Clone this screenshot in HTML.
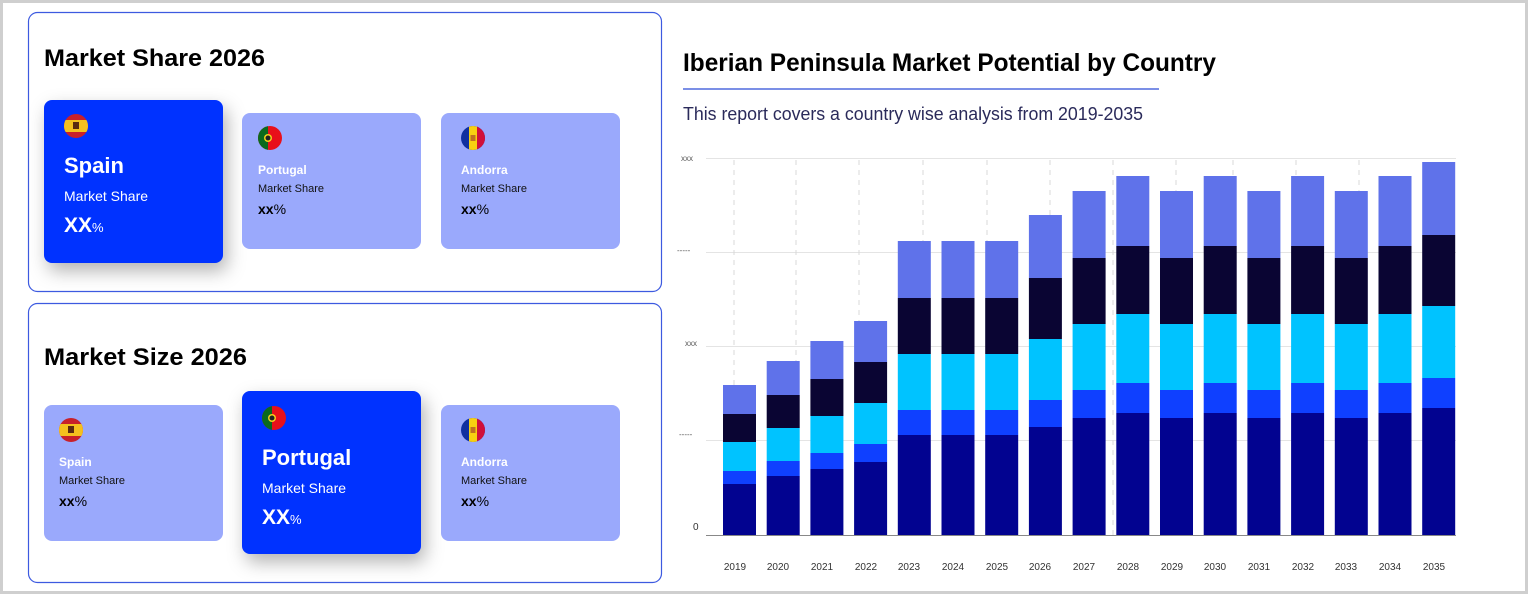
<!DOCTYPE html>
<html><head><meta charset="utf-8"><style>
html,body{margin:0;padding:0;background:#fff}
svg{display:block}
text{font-family:"Liberation Sans",sans-serif}
</style></head><body>
<svg width="1529" height="595" viewBox="0 0 1529 595" xmlns="http://www.w3.org/2000/svg">
<defs>
<filter id="sh" x="-40%" y="-40%" width="180%" height="180%"><feDropShadow dx="4" dy="8" stdDeviation="9" flood-color="#000" flood-opacity="0.3"/></filter>
<g id="bA"><rect y="385" width="33" height="29" fill="#5f72ea"/><rect y="414" width="33" height="28" fill="#0a0533"/><rect y="442" width="33" height="29" fill="#00c3ff"/><rect y="471" width="33" height="13" fill="#0f40ff"/><rect y="484" width="33" height="51" fill="#020390"/></g>
<g id="bB"><rect y="361" width="33" height="34" fill="#5f72ea"/><rect y="395" width="33" height="33" fill="#0a0533"/><rect y="428" width="33" height="33" fill="#00c3ff"/><rect y="461" width="33" height="15" fill="#0f40ff"/><rect y="476" width="33" height="59" fill="#020390"/></g>
<g id="bC"><rect y="341" width="33" height="38" fill="#5f72ea"/><rect y="379" width="33" height="37" fill="#0a0533"/><rect y="416" width="33" height="37" fill="#00c3ff"/><rect y="453" width="33" height="16" fill="#0f40ff"/><rect y="469" width="33" height="66" fill="#020390"/></g>
<g id="bD"><rect y="321" width="33" height="41" fill="#5f72ea"/><rect y="362" width="33" height="41" fill="#0a0533"/><rect y="403" width="33" height="41" fill="#00c3ff"/><rect y="444" width="33" height="18" fill="#0f40ff"/><rect y="462" width="33" height="73" fill="#020390"/></g>
<g id="bE"><rect y="241" width="33" height="57" fill="#5f72ea"/><rect y="298" width="33" height="56" fill="#0a0533"/><rect y="354" width="33" height="56" fill="#00c3ff"/><rect y="410" width="33" height="25" fill="#0f40ff"/><rect y="435" width="33" height="100" fill="#020390"/></g>
<g id="bF"><rect y="215" width="33" height="63" fill="#5f72ea"/><rect y="278" width="33" height="61" fill="#0a0533"/><rect y="339" width="33" height="61" fill="#00c3ff"/><rect y="400" width="33" height="27" fill="#0f40ff"/><rect y="427" width="33" height="108" fill="#020390"/></g>
<g id="bP"><rect y="191" width="33" height="67" fill="#5f72ea"/><rect y="258" width="33" height="66" fill="#0a0533"/><rect y="324" width="33" height="66" fill="#00c3ff"/><rect y="390" width="33" height="28" fill="#0f40ff"/><rect y="418" width="33" height="117" fill="#020390"/></g>
<g id="bQ"><rect y="176" width="33" height="70" fill="#5f72ea"/><rect y="246" width="33" height="68" fill="#0a0533"/><rect y="314" width="33" height="69" fill="#00c3ff"/><rect y="383" width="33" height="30" fill="#0f40ff"/><rect y="413" width="33" height="122" fill="#020390"/></g>
<g id="bZ"><rect y="162" width="33" height="73" fill="#5f72ea"/><rect y="235" width="33" height="71" fill="#0a0533"/><rect y="306" width="33" height="72" fill="#00c3ff"/><rect y="378" width="33" height="30" fill="#0f40ff"/><rect y="408" width="33" height="127" fill="#020390"/></g>
<clipPath id="c1"><circle cx="0" cy="0" r="12"/></clipPath>
<g id="fES" clip-path="url(#c1)"><rect x="-12" y="-12" width="24" height="24" fill="#c8202a"/><rect x="-12" y="-6" width="24" height="12" fill="#f4c01e"/><rect x="-3" y="-4" width="6" height="7" fill="#5a2a10"/></g>
<g id="fPT" clip-path="url(#c1)"><rect x="-12" y="-12" width="24" height="24" fill="#e8101a"/><rect x="-12" y="-12" width="10" height="24" fill="#0a6a1e"/><circle cx="-2" cy="0" r="4" fill="#f2d21a"/><circle cx="-2" cy="0" r="2.5" fill="#222"/></g>
<g id="fAD" clip-path="url(#c1)"><rect x="-12" y="-12" width="24" height="24" fill="#1030a0"/><rect x="-4" y="-12" width="8" height="24" fill="#f8d010"/><rect x="4" y="-12" width="8" height="24" fill="#d0103a"/><rect x="-2.5" y="-3" width="5" height="6" fill="#c07020"/></g>
</defs>
<rect x="1.5" y="1.5" width="1525" height="591" fill="#fff" stroke="#cfcfcf" stroke-width="3"/>

<!-- left panels -->
<rect x="28.5" y="12.5" width="633" height="279" rx="9" fill="#fff" stroke="#3d5ae0" stroke-width="1.2"/>
<rect x="28.5" y="303.5" width="633" height="279" rx="9" fill="#fff" stroke="#3d5ae0" stroke-width="1.2"/>
<text x="44" y="66" font-size="24" font-weight="bold" fill="#000" textLength="221" lengthAdjust="spacingAndGlyphs">Market Share 2026</text>
<text x="44" y="365" font-size="24" font-weight="bold" fill="#000" textLength="203" lengthAdjust="spacingAndGlyphs">Market Size 2026</text>

<!-- top cards -->
<rect x="44" y="100" width="179" height="163" rx="8" fill="#0432ff" filter="url(#sh)"/>
<use href="#fES" x="76" y="126"/>
<text x="64" y="173" font-size="22" font-weight="bold" fill="#fff">Spain</text>
<text x="64" y="201" font-size="14" fill="#fff">Market Share</text>
<text x="64" y="232" font-size="21" font-weight="bold" fill="#fff">XX<tspan font-size="13" font-weight="normal">%</tspan></text>

<rect x="242" y="113" width="179" height="136" rx="8" fill="#9aa9fc"/>
<use href="#fPT" x="270" y="138"/>
<text x="258" y="174" font-size="12" font-weight="bold" fill="#fff">Portugal</text>
<text x="258" y="192" font-size="11" fill="#111">Market Share</text>
<text x="258" y="214" font-size="14" font-weight="bold" fill="#000">xx<tspan font-weight="normal">%</tspan></text>

<rect x="441" y="113" width="179" height="136" rx="8" fill="#9aa9fc"/>
<use href="#fAD" x="473" y="138"/>
<text x="461" y="174" font-size="12" font-weight="bold" fill="#fff">Andorra</text>
<text x="461" y="192" font-size="11" fill="#111">Market Share</text>
<text x="461" y="214" font-size="14" font-weight="bold" fill="#000">xx<tspan font-weight="normal">%</tspan></text>

<!-- bottom cards -->
<rect x="44" y="405" width="179" height="136" rx="8" fill="#9aa9fc"/>
<use href="#fES" x="71" y="430"/>
<text x="59" y="466" font-size="12" font-weight="bold" fill="#fff">Spain</text>
<text x="59" y="484" font-size="11" fill="#111">Market Share</text>
<text x="59" y="506" font-size="14" font-weight="bold" fill="#000">xx<tspan font-weight="normal">%</tspan></text>

<rect x="242" y="391" width="179" height="163" rx="8" fill="#0432ff" filter="url(#sh)"/>
<use href="#fPT" x="274" y="418"/>
<text x="262" y="465" font-size="22" font-weight="bold" fill="#fff">Portugal</text>
<text x="262" y="493" font-size="14" fill="#fff">Market Share</text>
<text x="262" y="524" font-size="21" font-weight="bold" fill="#fff">XX<tspan font-size="13" font-weight="normal">%</tspan></text>

<rect x="441" y="405" width="179" height="136" rx="8" fill="#9aa9fc"/>
<use href="#fAD" x="473" y="430"/>
<text x="461" y="466" font-size="12" font-weight="bold" fill="#fff">Andorra</text>
<text x="461" y="484" font-size="11" fill="#111">Market Share</text>
<text x="461" y="506" font-size="14" font-weight="bold" fill="#000">xx<tspan font-weight="normal">%</tspan></text>

<!-- chart header -->
<text x="683" y="71" font-size="25" font-weight="bold" fill="#000" textLength="533" lengthAdjust="spacingAndGlyphs">Iberian Peninsula Market Potential by Country</text>
<rect x="683" y="88" width="476" height="2" fill="#7b8fe6"/>
<text x="683" y="120" font-size="18" fill="#2a2a5a" textLength="460" lengthAdjust="spacingAndGlyphs">This report covers a country wise analysis from 2019-2035</text>

<!-- grid -->
<g stroke="#e4e4e4" stroke-width="1">
<line x1="706" y1="158.5" x2="1456" y2="158.5"/><line x1="706" y1="252.5" x2="1456" y2="252.5"/><line x1="706" y1="346.5" x2="1456" y2="346.5"/><line x1="706" y1="440.5" x2="1456" y2="440.5"/>
</g>
<g stroke="#d8d8d8" stroke-width="1" stroke-dasharray="5,5">
<line x1="734" y1="160" x2="734" y2="535"/><line x1="796" y1="160" x2="796" y2="535"/><line x1="859" y1="160" x2="859" y2="535"/><line x1="923" y1="160" x2="923" y2="535"/><line x1="987" y1="160" x2="987" y2="535"/><line x1="1050" y1="160" x2="1050" y2="535"/><line x1="1113" y1="160" x2="1113" y2="535"/><line x1="1176" y1="160" x2="1176" y2="535"/><line x1="1233" y1="160" x2="1233" y2="535"/><line x1="1296" y1="160" x2="1296" y2="535"/><line x1="1359" y1="160" x2="1359" y2="535"/>
</g>
<g font-size="8" fill="#555">
<text x="681" y="161">xxx</text><text x="677" y="253">-----</text><text x="685" y="346">xxx</text><text x="679" y="437">-----</text>
</g>
<text x="693" y="530" font-size="10" fill="#333">0</text>

<!-- bars -->
<use href="#bA" x="723"/><use href="#bB" x="766.7"/><use href="#bC" x="810.4"/><use href="#bD" x="854.1"/>
<use href="#bE" x="897.8"/><use href="#bE" x="941.5"/><use href="#bE" x="985.2"/><use href="#bF" x="1028.9"/>
<use href="#bP" x="1072.6"/><use href="#bQ" x="1116.3"/><use href="#bP" x="1160"/><use href="#bQ" x="1203.7"/>
<use href="#bP" x="1247.4"/><use href="#bQ" x="1291.1"/><use href="#bP" x="1334.8"/><use href="#bQ" x="1378.5"/><use href="#bZ" x="1422.2"/>
<line x1="706" y1="535.5" x2="1456" y2="535.5" stroke="#888" stroke-width="1"/>

<g font-size="10" fill="#333" text-anchor="middle">
<text x="735" y="570">2019</text><text x="778" y="570">2020</text><text x="822" y="570">2021</text><text x="866" y="570">2022</text><text x="909" y="570">2023</text><text x="953" y="570">2024</text><text x="997" y="570">2025</text><text x="1040" y="570">2026</text><text x="1084" y="570">2027</text><text x="1128" y="570">2028</text><text x="1172" y="570">2029</text><text x="1215" y="570">2030</text><text x="1259" y="570">2031</text><text x="1303" y="570">2032</text><text x="1346" y="570">2033</text><text x="1390" y="570">2034</text><text x="1434" y="570">2035</text>
</g>
</svg>
</body></html>
